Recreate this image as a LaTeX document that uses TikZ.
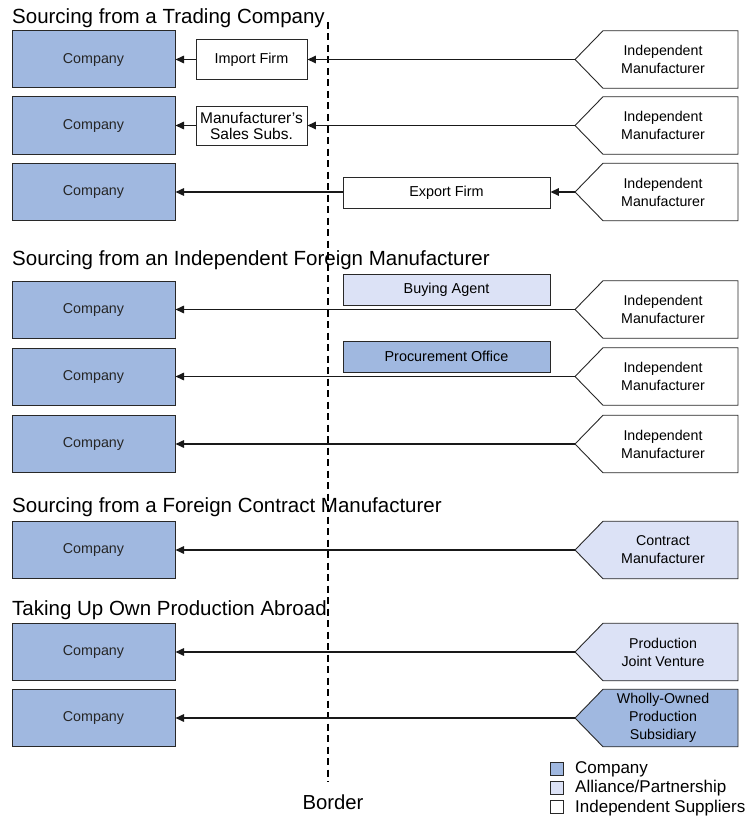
\documentclass[tikz,border=0pt]{standalone}
\usepackage{fontspec}
\setmainfont{Liberation Sans}
\usetikzlibrary{arrows.meta}
\definecolor{compblue}{RGB}{160,184,224}
\definecolor{alliblue}{RGB}{220,226,246}
\definecolor{edge}{RGB}{40,40,40}
\tikzset{
  companybox/.style={draw=edge, line width=1pt, fill=compblue, minimum width=163pt, minimum height=57pt, font=\fontsize{14.3}{17}\selectfont, text=black!85},
  midbox/.style={draw=edge, line width=0.9pt, fill=white, align=center, inner sep=0pt, font=\fontsize{14.4}{17}\selectfont},
  pentshape/.style={draw=edge, line width=0.9pt},
  penttext/.style={align=center, inner sep=0pt, font=\fontsize{14.2}{18}\selectfont},
  heading/.style={anchor=base west, inner sep=0pt, font=\fontsize{20.5}{24}\selectfont},
  flow/.style={draw=black!90, line width=1.5pt, -{Triangle[length=8.5pt,width=7.5pt]}},
  legsq/.style={draw=edge, line width=0.8pt, minimum width=13pt, minimum height=12.5pt, inner sep=0pt},
  legtext/.style={anchor=west, inner sep=0pt, font=\fontsize{17}{20}\selectfont},
  borderline/.style={line width=2pt, dash pattern=on 7pt off 4.5pt}
}
% #1 name, #2 y centre, #3 fill, #4 text
\newcommand\mfgpent[4]{%
  \filldraw[pentshape, fill=#3] (575,#2) -- (603,{#2-28.75}) -- (738,{#2-28.75}) -- (738,{#2+28.75}) -- (603,{#2+28.75}) -- cycle;
  \coordinate (#1tip) at (575,#2);
  \node[penttext] (#1) at (663,#2) {#4};
}
\begin{document}
\begin{tikzpicture}[x=1pt, y=-1pt]
\useasboundingbox (0,0) rectangle (745,824);
% border
\coordinate (btop) at (328,22);
\coordinate (bbot) at (328,782);
\draw[borderline] (btop) -- (bbot);
\node[anchor=base, inner sep=0pt, font=\fontsize{20.3}{24}\selectfont] (borderlbl) at (333,809) {Border};

% headings
\node[heading] (h1) at (12,24) {Sourcing from a Trading Company};
\node[heading] (h2) at (12,265) {Sourcing from an Independent Foreign Manufacturer};
\node[heading] (h3) at (12,512) {Sourcing from a Foreign Contract Manufacturer};
\node[heading] (h4) at (12,615) {Taking Up Own Production Abroad};

% Section 1
\node[companybox] (c1) at (93.5,59.5) {Company};
\node[companybox] (c2) at (93.5,125.5) {Company};
\node[companybox] (c3) at (93.5,192) {Company};
\node[midbox, minimum width=111pt, minimum height=40pt] (imp) at (251.5,59.5) {Import Firm};
\node[midbox, minimum width=111pt, minimum height=39pt, font=\fontsize{15.5}{16}\selectfont] (sub) at (251.5,125.5) {Manufacturer's\\Sales Subs.};
\node[midbox, minimum width=207pt, minimum height=31pt] (exp) at (446.5,192.5) {Export Firm};
\mfgpent{m1}{59.5}{white}{Independent\\Manufacturer}
\mfgpent{m2}{125.5}{white}{Independent\\Manufacturer}
\mfgpent{m3}{192}{white}{Independent\\Manufacturer}
\draw[flow] (m1tip) -- (imp.east);
\draw[flow] (imp.west) -- (c1.east);
\draw[flow] (m2tip) -- (sub.east);
\draw[flow] (sub.west) -- (c2.east);
\draw[flow] (m3tip) -- (exp.east |- m3tip);
\draw[flow] (exp.west |- c3.east) -- (c3.east);

% Section 2
\node[companybox] (c4) at (93.5,309.5) {Company};
\node[companybox] (c5) at (93.5,376.5) {Company};
\node[companybox] (c6) at (93.5,444) {Company};
\node[midbox, fill=alliblue, minimum width=207pt, minimum height=31pt] (buy) at (446.5,289.5) {Buying Agent};
\node[midbox, fill=compblue, minimum width=207pt, minimum height=31pt] (proc) at (446.5,356.5) {Procurement Office};
\mfgpent{m4}{309.5}{white}{Independent\\Manufacturer}
\mfgpent{m5}{376.5}{white}{Independent\\Manufacturer}
\mfgpent{m6}{444}{white}{Independent\\Manufacturer}
\draw[flow] (m4tip) -- (c4.east);
\draw[flow] (m5tip) -- (c5.east);
\draw[flow] (m6tip) -- (c6.east);

% Section 3
\node[companybox] (c7) at (93.5,550) {Company};
\mfgpent{m7}{550}{alliblue}{Contract\\Manufacturer}
\draw[flow] (m7tip) -- (c7.east);

% Section 4
\node[companybox] (c8) at (93.5,652) {Company};
\node[companybox] (c9) at (93.5,718) {Company};
\mfgpent{m8}{652}{alliblue}{Production\\Joint Venture}
\mfgpent{m9}{718}{compblue}{Wholly-Owned\\Production\\Subsidiary}
\draw[flow] (m8tip) -- (c8.east);
\draw[flow] (m9tip) -- (c9.east);

% Legend
\node[legsq, fill=compblue] (l1) at (556.5,769) {};
\node[legsq, fill=alliblue] (l2) at (556.5,788) {};
\node[legsq, fill=white] (l3) at (556.5,807) {};
\node[legtext] (lt1) at (575,769) {Company};
\node[legtext] (lt2) at (575,788.5) {Alliance/Partnership};
\node[legtext] (lt3) at (575,808) {Independent Suppliers};
\end{tikzpicture}
\end{document}
